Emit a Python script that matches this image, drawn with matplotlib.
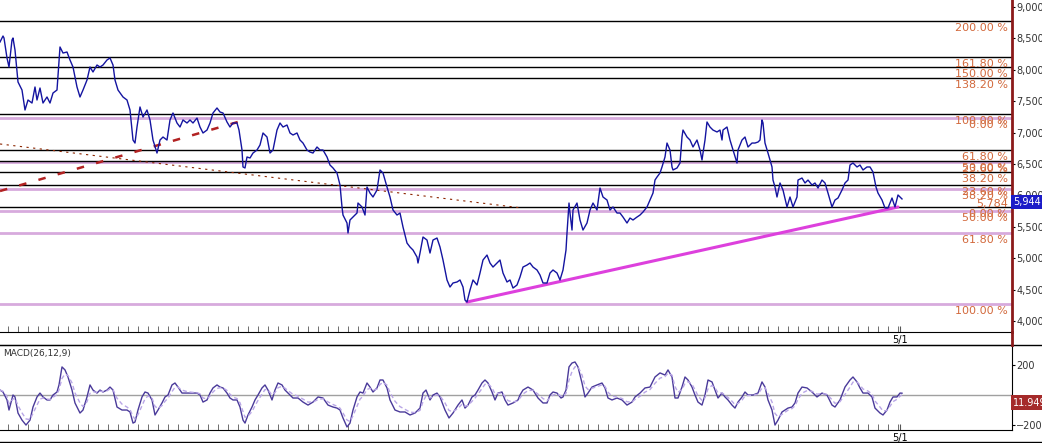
import matplotlib
matplotlib.use("Agg")
import matplotlib.pyplot as plt
from matplotlib.lines import Line2D
from matplotlib.ticker import FuncFormatter
import pandas as pd

# price series (bar number, close)
bar = [0, 3, 4, 7, 9, 12, 13, 15, 18, 22,
       25, 28, 32, 35, 37, 40, 43, 47, 50, 53,
       57, 60, 63, 67, 70, 73, 77, 80, 83, 87,
       90, 93, 97, 100, 103, 107, 110, 113, 115, 118,
       123, 127, 130, 133, 135, 137, 140, 143, 147, 150,
       153, 157, 160, 163, 167, 170, 173, 177, 180, 183,
       187, 190, 193, 197, 200, 203, 207, 210, 213, 217,
       220, 223, 227, 230, 233, 237, 239, 242, 243, 245,
       247, 250, 253, 257, 260, 263, 267, 270, 273, 277,
       280, 283, 287, 290, 293, 297, 300, 303, 307, 310,
       313, 317, 320, 323, 327, 330, 333, 337, 340, 342,
       343, 347, 348, 350, 353, 357, 358, 362, 365, 367,
       370, 373, 377, 380, 383, 387, 390, 393, 397, 400,
       403, 407, 410, 413, 417, 418, 420, 423, 427, 430,
       433, 437, 440, 443, 447, 450, 453, 457, 460, 463,
       465, 467, 470, 473, 477, 480, 483, 487, 490, 493,
       497, 500, 503, 507, 510, 513, 517, 520, 523, 527,
       530, 533, 537, 540, 543, 547, 550, 553, 557, 560,
       563, 566, 567, 569, 570, 572, 573, 577, 580, 583,
       587, 590, 593, 597, 600, 603, 607, 610, 613, 617,
       620, 623, 627, 630, 633, 637, 640, 643, 647, 650,
       653, 655, 657, 660, 662, 665, 667, 670, 672, 673,
       677, 680, 682, 683, 687, 690, 693, 697, 700, 702,
       703, 705, 707, 710, 713, 717, 720, 722, 723, 727,
       730, 733, 737, 738, 742, 745, 748, 752, 755, 758,
       760, 762, 763, 765, 768, 772, 773, 775, 777, 780,
       783, 787, 790, 793, 797, 798, 802, 805, 808, 812,
       815, 818, 822, 825, 828, 832, 835, 838, 842, 845,
       848, 850, 853, 857, 860, 863, 867, 870, 873, 876,
       878, 882, 885, 888, 892, 895, 898, 902]
close = [8442, 8538, 8506, 8188, 8044, 8474, 8506, 8315, 7806, 7678,
         7360, 7519, 7471, 7726, 7519, 7710, 7471, 7567, 7471, 7630,
         7678, 8363, 8267, 8283, 8156, 8044, 7726, 7567, 7678, 7837,
         8044, 7965, 8076, 8044, 8076, 8156, 8188, 8076, 7837, 7678,
         7567, 7519, 7360, 6882, 6834, 7089, 7408, 7248, 7360, 7201,
         6882, 6675, 6882, 6930, 6882, 7201, 7312, 7153, 7089, 7201,
         7153, 7201, 7153, 7232, 7089, 6994, 7041, 7153, 7312, 7392,
         7328, 7312, 7169, 7089, 7153, 7153, 7041, 6723, 6453, 6437,
         6612, 6596, 6675, 6723, 6803, 6994, 6930, 6675, 6723, 7041,
         7153, 7089, 7121, 6994, 6962, 6994, 6882, 6834, 6723, 6691,
         6675, 6771, 6723, 6723, 6612, 6484, 6437, 6357, 6166, 5816,
         5688, 5561, 5402, 5609, 5656, 5720, 5879, 5816, 5688, 6134,
         6038, 5975, 6086, 6405, 6357, 6134, 5975, 5768, 5688, 5720,
         5497, 5242, 5179, 5131, 5019, 4924, 5083, 5338, 5290, 5083,
         5290, 5322, 5179, 4972, 4654, 4542, 4606, 4622, 4654, 4542,
         4335, 4303, 4494, 4654, 4574, 4765, 4972, 5051, 4924, 4860,
         4924, 4972, 4765, 4622, 4654, 4526, 4574, 4701, 4860, 4892,
         4924, 4860, 4813, 4733, 4606, 4606, 4765, 4813, 4765, 4654,
         4813, 5131, 5402, 5879, 5720, 5449, 5768, 5879, 5609, 5449,
         5561, 5768, 5879, 5768, 6118, 5975, 5927, 5768, 5816, 5720,
         5720, 5656, 5561, 5640, 5609, 5656, 5688, 5736, 5816, 5927,
         6038, 6245, 6293, 6357, 6453, 6612, 6834, 6723, 6453, 6405,
         6437, 6516, 6930, 7041, 6930, 6882, 6771, 6882, 6723, 6564,
         6675, 6882, 7169, 7089, 7041, 7010, 7041, 6882, 7041, 7089,
         6882, 6723, 6516, 6723, 6882, 6930, 6771, 6834, 6834, 6850,
         6882, 7201, 7153, 6834, 6675, 6453, 6245, 6134, 5975, 6198,
         6086, 5816, 5975, 5816, 5975, 6245, 6277, 6198, 6245, 6166,
         6198, 6118, 6245, 6198, 6038, 5816, 5927, 5959, 6086, 6198,
         6245, 6484, 6516, 6453, 6484, 6405, 6453, 6453, 6373, 6134,
         6038, 5927, 5800, 5800, 5959, 5816, 6007, 5944]

# MACD(26,12,9) line
mbar = [0, 3, 7, 9, 13, 15, 18, 22, 26, 30,
        33, 37, 40, 43, 47, 50, 53, 57, 59, 62,
        65, 68, 72, 75, 80, 83, 87, 90, 93, 97,
        100, 103, 107, 110, 113, 117, 122, 127, 130, 133,
        135, 138, 142, 145, 148, 152, 155, 158, 162, 165,
        168, 172, 175, 178, 182, 187, 192, 197, 200, 203,
        207, 210, 213, 217, 220, 223, 227, 230, 233, 237,
        240, 243, 245, 248, 252, 255, 258, 262, 265, 268,
        272, 275, 278, 282, 285, 288, 293, 298, 303, 308,
        313, 318, 323, 328, 333, 337, 340, 343, 347, 350,
        353, 357, 360, 363, 367, 370, 373, 377, 380, 383,
        387, 390, 395, 400, 405, 410, 415, 420, 423, 426,
        430, 433, 437, 440, 445, 449, 453, 458, 462, 465,
        468, 472, 475, 478, 482, 485, 488, 492, 495, 498,
        502, 505, 508, 513, 518, 520, 523, 528, 533, 538,
        543, 547, 550, 553, 557, 561, 563, 566, 569, 572,
        575, 578, 582, 585, 588, 592, 597, 602, 605, 608,
        612, 617, 622, 627, 632, 635, 640, 645, 650, 655,
        660, 665, 668, 672, 675, 678, 682, 685, 688, 692,
        695, 698, 702, 705, 708, 712, 715, 718, 722, 725,
        728, 732, 735, 738, 742, 745, 748, 753, 758, 762,
        765, 768, 772, 775, 778, 782, 785, 788, 792, 795,
        798, 802, 807, 812, 817, 822, 827, 832, 835, 840,
        845, 850, 853, 857, 860, 863, 868, 872, 875, 880,
        883, 887, 890, 893, 897, 900, 902]
macd = [33, 20, -33, -100, 0, -13, -120, -167, -200, -167,
        -80, -13, 13, -13, -33, -33, 0, 20, 67, 187,
        167, 120, 33, -53, -120, -100, -13, 67, 33, 13,
        33, 20, 33, 53, 33, -80, -100, -100, -113, -187,
        -180, -100, -13, 20, 13, -33, -133, -100, -53, -13,
        0, 67, 80, 53, 13, 13, 13, 13, 0, -47,
        -33, 13, 47, 67, 53, 47, 13, -20, -33, -33,
        -80, -167, -187, -133, -80, -33, 0, 47, 67, 33,
        -33, 33, 80, 67, 33, 13, -20, -20, -47, -67,
        -47, -13, -20, -67, -80, -87, -100, -153, -213, -187,
        -100, -13, 20, 13, 80, 53, 20, 47, 100, 100,
        47, -33, -100, -113, -113, -133, -120, -87, 13, 33,
        -33, 0, 13, -13, -100, -153, -120, -67, -33, -87,
        -67, -13, 0, 33, 80, 100, 80, 20, -33, 13,
        20, -33, -67, -53, -33, 0, 33, 53, 33, -20,
        -53, -53, 0, 20, 13, -20, -13, 33, 187, 213,
        220, 187, 80, -13, 13, 53, 67, 80, 47, -20,
        -33, -20, -33, -67, -47, -13, 13, 47, 53, 120,
        147, 133, 167, 120, -20, -20, 53, 120, 100, 53,
        0, -47, -67, 0, 100, 87, 33, -20, 13, -13,
        -33, -67, -87, -47, -13, 20, 0, 0, 13, 87,
        53, -33, -100, -200, -167, -113, -100, -87, -80, -53,
        13, 53, 47, 20, -13, 13, 0, -67, -80, -33,
        53, 100, 120, 87, 47, 13, 13, -13, -87, -120,
        -133, -100, -47, -13, -13, 13, 12]
assert len(bar) == len(close) and len(mbar) == len(macd)

# fibonacci sets: (0 %, 100 %) anchors
fib_black = (5815, 7296)
fib_black_pct = [0, 23.6, 38.2, 50, 61.8, 100, 138.2, 150, 161.8, 200]
fib_purple = (7232, 4271)
fib_purple_pct = [0, 23.6, 38.2, 50, 61.8, 100]

# drawn trend lines (bar, price)
red_line = ([0, 248], [6070, 7216])
dotted_line = ([0, 522], [6819, 5800])
support_end = (898, 5816)
support_label = 5784

last_price = close[-1]
macd_last = 11.949
date_label = (900, "5/1")

W, H = 1042, 443
fig = plt.figure(figsize=(W / 100, H / 100), dpi=100)
ax = fig.add_axes([0, 1 - 332 / H, 1012 / W, 332 / H])
mx = fig.add_axes([0, 1 - 430 / H, 1012 / W, 85 / H])

ax.set_xlim(0, 1012)
ax.set_ylim(3826, 9111)
mx.set_xlim(0, 1012)
mx.set_ylim(-233, 333)

lab = "#d2693c"

def fib(a, base, top, pcts, color, lw, z):
    for p in pcts:
        lvl = base + (top - base) * p / 100
        a.axhline(lvl, color=color, lw=lw, zorder=z)
        a.annotate(f"{p:.2f} %", (1008, lvl), xytext=(0, -2),
                   textcoords="offset pixels", ha="right", va="top",
                   fontsize=8, color=lab, zorder=5)

fib(ax, *fib_purple, fib_purple_pct, "#d7aadd", 2, 1)
fib(ax, *fib_black, fib_black_pct, "black", 1, 2)
ax.annotate(f"{support_label:,}", (1008, support_label), xytext=(0, 0),
            textcoords="offset pixels", ha="right", va="bottom",
            fontsize=8, color=lab, zorder=5)

ax.plot(*red_line, color="#b22222", lw=1.8, ls=(0, (3, 5)), zorder=3)
ax.plot(*dotted_line, color="#8b2500", lw=0.8, ls=(0, (2, 4)), zorder=3)
low_i = close.index(min(close))
ax.plot([bar[low_i], support_end[0]], [close[low_i], support_end[1]],
        color="#dd40dd", lw=2.2, zorder=3, solid_capstyle="round")
ax.plot(bar, close, color="#1414a0", lw=1, zorder=4)

# axes styling
for a in (ax, mx):
    a.spines["left"].set_visible(False)
    a.yaxis.tick_right()
    a.set_xticks([date_label[0]], [date_label[1]])
    a.set_xticks(range(8, 901, 10), minor=True)
    a.tick_params(axis="x", which="both", direction="in", length=4,
                  labelsize=7, pad=2, color="#555")
    a.tick_params(axis="y", direction="out", length=2, labelsize=7,
                  pad=1, labelcolor="#333")
ax.spines["top"].set_visible(False)
ax.spines["right"].set_color("#8b1a1a")
ax.spines["right"].set_linewidth(2)
ax.set_yticks(range(4000, 9001, 500))
ax.yaxis.set_major_formatter(FuncFormatter(lambda v, p: f"{v:,.0f}"))
ax.annotate(f"{last_price:,}", (1.001, last_price), xytext=(0, -3),
            textcoords="offset pixels", xycoords=ax.get_yaxis_transform(),
            ha="left", va="center", fontsize=7, color="white",
            annotation_clip=False,
            bbox=dict(facecolor="#1c1cc8", edgecolor="none", pad=1.5))

# MACD panel
signal = pd.Series(macd).ewm(span=3).mean()
mx.axhline(0, color="#a0a0a0", lw=1)
mx.plot(mbar, macd, color="#4a3a9a", lw=1)
mx.plot(mbar, signal, color="#b9a6e6", lw=1, ls=(0, (3, 2)))
mx.set_yticks([200, -200])
mx.text(0.003, 0.95, "MACD(26,12,9)", transform=mx.transAxes,
        fontsize=6.5, va="top", color="#333")
mx.text(1.001, -50, f"{macd_last}", transform=mx.get_yaxis_transform(),
        ha="left", va="center", fontsize=7, color="white", clip_on=False,
        bbox=dict(facecolor="#a52a2a", edgecolor="none", pad=1.5))

fig.add_artist(Line2D([0, 1], [1 - 345 / H] * 2, color="black", lw=1))
fig.add_artist(Line2D([0, 1], [1 - 442 / H] * 2, color="black", lw=1))
fig.add_artist(Line2D([1012 / W] * 2, [1 - 345 / H, 1 - 332 / H],
                      color="#8b1a1a", lw=2))

fig.savefig("out.png", dpi=100)
